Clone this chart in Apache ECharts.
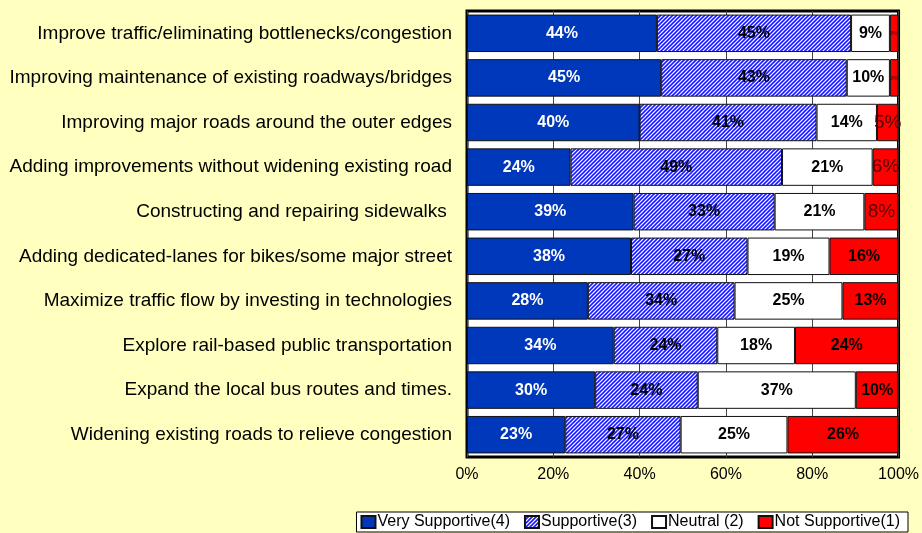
<!DOCTYPE html>
<html>
<head>
<meta charset="utf-8">
<script src="https://cdn.jsdelivr.net/npm/echarts@6/dist/echarts.min.js"></script>
<style>
  html, body { margin: 0; padding: 0; background: #FFFFC0; }
  #chart { width: 922px; height: 533px; }
</style>
</head>
<body>
<div id="chart"></div>
<script>
var categories = [
    'Improve traffic/eliminating bottlenecks/congestion',
    'Improving maintenance of existing roadways/bridges',
    'Improving major roads around the outer edges',
    'Adding improvements without widening existing road',
    'Constructing and repairing sidewalks ',
    'Adding dedicated-lanes for bikes/some major street',
    'Maximize traffic flow by investing in technologies',
    'Explore rail-based public transportation',
    'Expand the local bus routes and times.',
    'Widening existing roads to relieve congestion'
];
var verySupportive = [44, 45, 40, 24, 39, 38, 28, 34, 30, 23];
var supportive     = [45, 43, 41, 49, 33, 27, 34, 24, 24, 27];
var neutral        = [9, 10, 14, 21, 21, 19, 25, 18, 37, 25];
var notSupportive  = [2, 2, 5, 6, 8, 16, 13, 24, 10, 26];
var xTicks = [0, 20, 40, 60, 80, 100];

var FONT = "'Liberation Sans', Arial, sans-serif";

// hatch pattern for "Supportive"
var hatch = document.createElement('canvas');
hatch.width = 4;
hatch.height = 4;
var hc = hatch.getContext('2d');
hc.fillStyle = '#ffffff';
hc.fillRect(0, 0, 4, 4);
hc.strokeStyle = '#1a1aff';
hc.lineWidth = 1.6;
hc.beginPath();
hc.moveTo(-1, 5); hc.lineTo(5, -1);
hc.moveTo(-1, 1); hc.lineTo(1, -1);
hc.moveTo(3, 5); hc.lineTo(5, 3);
hc.stroke();

// Excel-style 100% stacking: normalise each row by its total
var totals = categories.map(function (c, i) {
    return verySupportive[i] + supportive[i] + neutral[i] + notSupportive[i];
});
function norm(arr) {
    return arr.map(function (v, i) { return { value: v / totals[i] * 100, raw: v }; });
}

var chart = echarts.init(document.getElementById('chart'));

function mkSeries(name, arr, fill, labelColor) {
    return {
        name: name,
        type: 'bar',
        stack: 'all',
        barCategoryGap: '16%',
        data: norm(arr),
        itemStyle: { color: fill, borderColor: '#111', borderWidth: 1 },
        label: {
            show: true,
            position: 'inside',
            color: labelColor,
            fontFamily: FONT,
            fontWeight: 'bold',
            fontSize: 16,
            formatter: function (p) { return p.data.raw + '%'; }
        }
    };
}

var red = mkSeries('Not Supportive(1)', notSupportive, '#ff0000', '#000');
red.label.formatter = function (p) {
    var v = p.data.raw;
    if (v <= 2) return '{tiny|' + v + '%}';
    if (v < 10) return '{small|' + v + '%}';
    return v + '%';
};
red.label.rich = {
    tiny: { fontSize: 6, color: '#600', fontFamily: FONT },
    small: { fontSize: 19, color: '#500', fontFamily: FONT, fontWeight: 'normal' }
};

var option = {
    backgroundColor: '#FFFFC0',
    animation: false,
    textStyle: { fontFamily: FONT },
    grid: {
        left: 467, top: 11, width: 432, height: 446,
        show: true,
        backgroundColor: '#ffffff',
        borderColor: '#000',
        borderWidth: 3
    },
    xAxis: {
        type: 'value',
        min: 0, max: 100, interval: 20,
        axisLine: { show: false },
        axisTick: { show: false },
        splitLine: { show: true, lineStyle: { color: '#444', width: 1 } },
        axisLabel: {
            color: '#000', fontSize: 16, fontFamily: FONT, margin: 10,
            formatter: function (v) { return xTicks.indexOf(v) >= 0 ? v + '%' : ''; }
        }
    },
    yAxis: {
        type: 'category',
        data: categories,
        inverse: true,
        axisLine: { show: false },
        axisTick: { show: false },
        axisLabel: { color: '#000', fontSize: 19, fontFamily: FONT, margin: 15 }
    },
    legend: {
        right: 14,
        bottom: 1,
        backgroundColor: '#ffffff',
        borderColor: '#000',
        borderWidth: 1,
        padding: [2, 8, 2, 4],
        itemWidth: 14,
        itemHeight: 12,
        itemGap: 14,
        icon: 'rect',
        textStyle: { color: '#000', fontSize: 16, fontFamily: FONT, padding: [0, 0, 0, -3] },
        data: ['Very Supportive(4)', 'Supportive(3)', 'Neutral (2)', 'Not Supportive(1)']
    },
    series: [
        mkSeries('Very Supportive(4)', verySupportive, '#0038BB', '#ffffff'),
        mkSeries('Supportive(3)', supportive, { image: hatch, repeat: 'repeat' }, '#000'),
        mkSeries('Neutral (2)', neutral, '#ffffff', '#000'),
        red
    ]
};

chart.setOption(option);
</script>
</body>
</html>
